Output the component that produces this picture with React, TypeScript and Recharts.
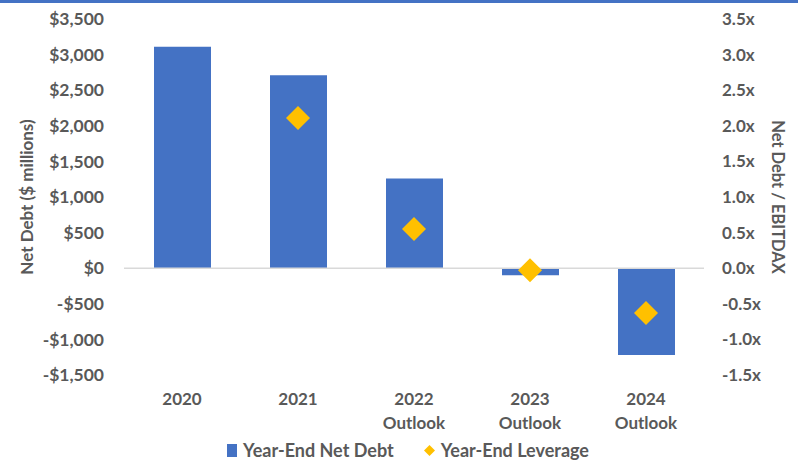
import React from 'react';
import { ComposedChart, Bar, Line, XAxis, YAxis, ReferenceLine, Legend } from 'recharts';

const years = ['2020', '2021', '2022', '2023', '2024'];
const suffixes = ['', '', 'Outlook', 'Outlook', 'Outlook'];
const netDebt = [3110, 2710, 1260, -100, -1220];
const leverage: (number | null)[] = [null, 2.11, 0.55, -0.03, -0.63];
const leftTicks = [-1500, -1000, -500, 0, 500, 1000, 1500, 2000, 2500, 3000, 3500];
const rightTicks = [-1.5, -1.0, -0.5, 0, 0.5, 1.0, 1.5, 2.0, 2.5, 3.0, 3.5];

const data = years.map((y, i) => ({
  name: y,
  sub: suffixes[i],
  netDebt: netDebt[i],
  leverage: leverage[i],
}));

const TXT = '#595959';
const BLUE = '#4472C4';
const GOLD = '#FFC000';
const FONT = 'Lato, "Open Sans", sans-serif';

const fmtLeft = (v: number) => {
  const a = Math.abs(v).toLocaleString('en-US');
  return (v < 0 ? '-$' : '$') + a;
};
const fmtRight = (v: number) => v.toFixed(1) + 'x';

const XTick = (props: any) => {
  const { x, y, payload, index } = props;
  const sub = suffixes[index] ?? '';
  return (
    <g>
      <text x={x} y={y} dy={22} textAnchor="middle" fill={TXT} fontSize={17} fontWeight={700} fontFamily={FONT}>
        {payload.value}
      </text>
      {sub ? (
        <text x={x} y={y} dy={46} textAnchor="middle" fill={TXT} fontSize={17} fontWeight={700} fontFamily={FONT}>
          {sub}
        </text>
      ) : null}
    </g>
  );
};

const Diamond = (props: any) => {
  const { cx, cy, value } = props;
  if (value === null || value === undefined || cx == null || cy == null || isNaN(cy)) return null;
  const r = 12;
  return (
    <polygon
      points={`${cx},${cy - r} ${cx + r},${cy} ${cx},${cy + r} ${cx - r},${cy}`}
      fill={GOLD}
    />
  );
};

const LegendContent = () => (
  <div style={{ display: 'flex', justifyContent: 'center', alignItems: 'center', height: 22, fontFamily: FONT, fontWeight: 700, fontSize: 18, color: TXT, paddingLeft: 18 }}>
    <svg width={11} height={13} style={{ marginRight: 5 }}>
      <rect x={0} y={0} width={10} height={13} fill={BLUE} />
    </svg>
    <span style={{ marginRight: 30 }}>Year-End Net Debt</span>
    <svg width={11} height={11} style={{ marginRight: 6 }}>
      <polygon points="5.5,0 11,5.5 5.5,11 0,5.5" fill={GOLD} />
    </svg>
    <span>Year-End Leverage</span>
  </div>
);

export default function App() {
  return (
    <div style={{ position: 'absolute', left: 0, top: 0, width: 798, height: 461, background: '#fff', overflow: 'hidden' }}>
      <ComposedChart width={798} height={461} data={data} margin={{ top: 19, right: 0, bottom: 0, left: 0 }}>
        <XAxis dataKey="name" axisLine={false} tickLine={false} height={64} tick={<XTick />} interval={0} />
        <YAxis
          yAxisId="left"
          domain={[-1500, 3500]}
          ticks={leftTicks}
          width={124}
          axisLine={false}
          tickLine={false}
          tickSize={0}
          tickMargin={20}
          tickFormatter={fmtLeft}
          tick={{ fill: TXT, fontSize: 17.5, fontWeight: 700, fontFamily: FONT }}
          interval={0}
          label={{ value: 'Net Debt ($ millions)', angle: -90, position: 'center', dx: -35, fill: TXT, fontSize: 17, fontWeight: 700, fontFamily: FONT }}
        />
        <YAxis
          yAxisId="right"
          orientation="right"
          domain={[-1.5, 3.5]}
          ticks={rightTicks}
          width={94}
          axisLine={false}
          tickLine={false}
          tickSize={0}
          tickMargin={18}
          tickFormatter={fmtRight}
          tick={{ fill: TXT, fontSize: 17, fontWeight: 700, fontFamily: FONT, textAnchor: 'start' }}
          interval={0}
          label={{ value: 'Net Debt / EBITDAX', angle: 90, position: 'center', dx: 27, fill: TXT, fontSize: 16.5, fontWeight: 700, fontFamily: FONT }}
        />
        <ReferenceLine yAxisId="left" y={0} stroke="#D9D9D9" strokeWidth={1.5} />
        <Bar yAxisId="left" dataKey="netDebt" name="Year-End Net Debt" fill={BLUE} barSize={57} isAnimationActive={false} />
        <Line
          yAxisId="right"
          dataKey="leverage"
          name="Year-End Leverage"
          stroke="none"
          legendType="diamond"
          dot={<Diamond />}
          activeDot={false}
          isAnimationActive={false}
        />
        <Legend verticalAlign="bottom" height={22} content={<LegendContent />} />
      </ComposedChart>
      <div style={{ position: 'absolute', left: 0, top: 0, width: 798, height: 3, background: BLUE }} />
    </div>
  );
}
